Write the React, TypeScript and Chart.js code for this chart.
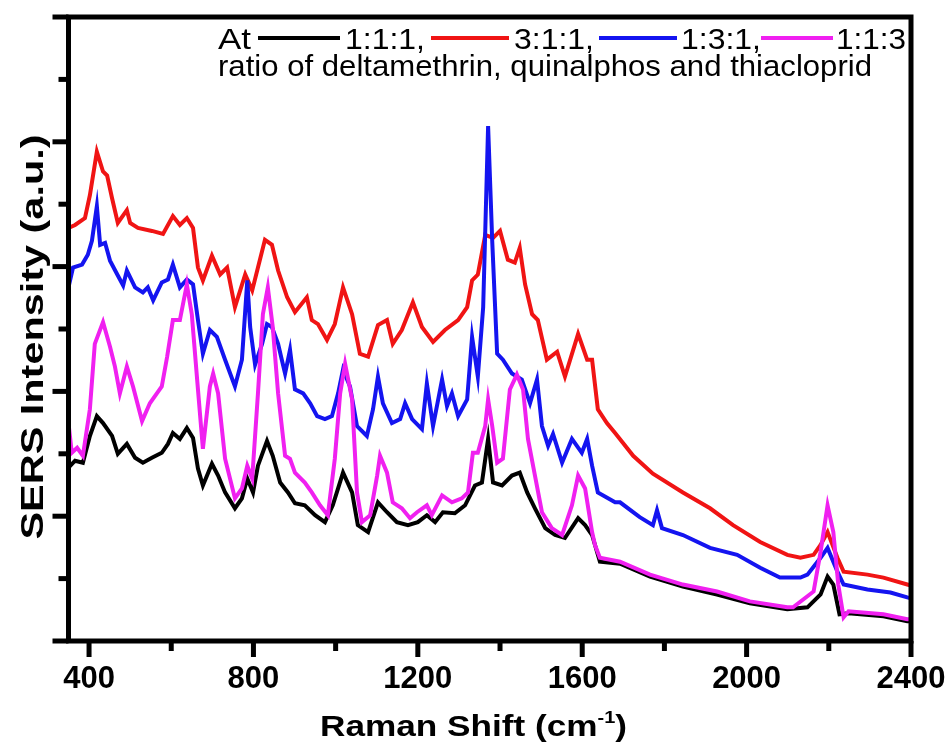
import React, { useEffect, useRef } from 'react';
import { Chart, registerables } from 'chart.js';

Chart.register(...registerables);

// ---------- data ----------
const xTickValues = [400, 800, 1200, 1600, 2000, 2400];
const xTickLabels = ['400', '800', '1200', '1600', '2000', '2400'];
const xMinorTicks = [600, 1000, 1400, 1800, 2200];
const yMajorTicks = [0, 126, 252, 378, 504, 630];
const yMinorTicks = [63, 189, 315, 441, 567];

const seriesLabels = ['1:1:1,', '3:1:1,', '1:3:1,', '1:1:3'];
const seriesColors = ['#000000', '#f01414', '#1414f0', '#f020f0'];

const blackShift = [350,366,385,402,419,434,456,470,492,512,531,553,577,592,604,621,638,653,665,677,699,714,731,755,772,785,799,811,833,847,865,884,901,925,950,974,993,1018,1040,1054,1079,1103,1125,1149,1176,1200,1222,1242,1261,1290,1315,1339,1356,1371,1383,1405,1429,1448,1466,1485,1510,1534,1558,1590,1607,1624,1643,1692,1765,1845,1928,2008,2099,2148,2180,2197,2211,2226,2248,2333,2391,2400];
const blackIntensity = [175,182,180,207,227,220,207,189,199,185,180,185,190,199,210,204,215,205,174,157,179,167,150,134,144,164,150,177,202,187,160,150,139,137,127,120,137,170,150,117,110,140,130,120,117,120,127,120,130,129,137,157,160,204,160,157,167,170,150,134,114,107,104,124,117,107,80,78,65,55,47,38,32,34,47,65,57,27,28,25,20,20];

const redShift = [350,366,390,402,419,434,444,456,470,492,500,519,553,580,604,621,638,653,665,677,699,719,736,755,780,797,811,828,845,860,882,901,930,942,957,979,998,1018,1040,1059,1079,1103,1125,1139,1161,1188,1210,1237,1266,1298,1320,1332,1346,1364,1383,1400,1419,1436,1448,1461,1478,1492,1514,1539,1558,1590,1612,1624,1638,1660,1680,1724,1772,1845,1911,1967,2033,2099,2131,2163,2180,2197,2221,2236,2294,2333,2391,2400];
const redIntensity = [417,420,427,450,494,474,470,447,422,435,422,417,414,411,429,420,427,417,377,364,389,370,377,337,370,354,377,405,400,374,347,332,347,324,320,304,320,357,330,290,287,319,324,300,314,342,317,302,314,324,337,364,370,410,407,414,385,382,397,360,330,324,284,292,267,310,284,284,234,220,210,187,169,150,134,117,100,87,84,87,97,110,84,70,67,64,57,56];

const blueShift = [350,361,383,397,407,419,427,439,451,470,483,492,512,531,543,556,577,592,604,621,638,653,665,677,694,711,731,755,772,785,792,804,821,833,845,860,869,877,889,901,921,938,955,974,991,1006,1018,1035,1052,1076,1091,1103,1115,1137,1157,1169,1186,1210,1222,1237,1259,1271,1283,1298,1320,1332,1346,1359,1371,1381,1393,1407,1429,1453,1473,1490,1502,1517,1529,1551,1575,1599,1612,1624,1638,1680,1692,1740,1772,1782,1794,1845,1911,1977,2033,2081,2131,2148,2180,2197,2221,2236,2294,2350,2391,2400];
const blueIntensity = [357,377,380,390,404,439,400,402,384,369,359,374,357,352,357,344,362,365,380,357,365,360,324,290,314,307,284,257,284,364,317,279,300,320,317,300,284,270,294,254,250,240,227,224,227,250,274,257,217,207,234,267,240,220,224,240,224,214,260,217,264,237,250,227,244,307,267,337,520,404,290,284,270,264,240,264,217,197,209,180,204,190,204,177,150,140,140,125,117,132,114,107,94,87,74,64,64,67,84,94,70,57,52,49,44,43];

const pinkShift = [350,358,371,385,402,414,434,451,463,475,492,507,529,548,565,577,590,604,621,638,650,663,677,694,702,714,731,755,772,785,797,811,823,835,847,860,877,889,901,925,942,962,981,998,1011,1023,1040,1052,1064,1084,1101,1108,1125,1139,1161,1181,1198,1222,1234,1259,1283,1307,1322,1334,1346,1364,1371,1381,1393,1407,1424,1441,1456,1468,1485,1502,1526,1551,1575,1590,1607,1624,1631,1643,1692,1765,1845,1928,2008,2099,2113,2163,2180,2197,2211,2223,2236,2248,2333,2391,2400];
const pinkIntensity = [220,190,195,187,234,300,322,297,277,250,277,257,222,240,250,257,287,324,324,360,330,264,194,257,270,250,184,144,154,177,164,250,330,357,317,250,187,184,170,160,150,137,127,184,250,280,244,150,120,127,167,187,170,140,134,124,130,137,127,147,140,144,150,190,190,217,244,217,180,184,254,269,254,204,167,130,114,107,137,167,154,110,97,84,80,67,57,50,40,34,34,50,90,137,110,57,24,30,27,22,22];

const seriesShifts = [blackShift, redShift, blueShift, pinkShift];
const seriesIntensities = [blackIntensity, redIntensity, blueIntensity, pinkIntensity];

const legendPrefix = 'At';
const legendSecondLine = 'ratio of deltamethrin, quinalphos and thiacloprid';
const yTitle = 'SERS Intensity (a.u.)';
const xTitleMain = 'Raman Shift (cm';
const xTitleSup = '-1';
const xTitleEnd = ')';

// ---------- drawing helpers ----------
const FONT = "'Liberation Sans', Arial, Helvetica, sans-serif";

function pairs(xs: number[], ys: number[]) {
  const n = Math.min(xs.length, ys.length);
  const out: { x: number; y: number }[] = [];
  for (let i = 0; i < n; i++) out.push({ x: xs[i], y: ys[i] });
  return out;
}

function fitText(ctx: CanvasRenderingContext2D, text: string, x: number, y: number, width: number) {
  const w = ctx.measureText(text).width;
  ctx.save();
  ctx.translate(x, y);
  ctx.scale(width / w, 1);
  ctx.fillText(text, 0, 0);
  ctx.restore();
}

const decorPlugin = {
  id: 'decor',
  afterDatasetsDraw(chart: any) {
    const { ctx, chartArea: a, scales } = chart;
    const xs = scales.x;
    const ys = scales.y;
    ctx.save();
    ctx.strokeStyle = '#000';
    ctx.lineWidth = 5;
    ctx.lineCap = 'butt';
    ctx.strokeRect(a.left, a.top, a.right - a.left, a.bottom - a.top);
    const tick = (x1: number, y1: number, x2: number, y2: number) => {
      ctx.beginPath();
      ctx.moveTo(x1, y1);
      ctx.lineTo(x2, y2);
      ctx.stroke();
    };
    xTickValues.forEach((v) => { const p = xs.getPixelForValue(v); tick(p, a.bottom, p, a.bottom + 16); });
    xMinorTicks.forEach((v) => { const p = xs.getPixelForValue(v); tick(p, a.bottom, p, a.bottom + 10); });
    yMajorTicks.forEach((v) => { const p = ys.getPixelForValue(v); tick(a.left, p, a.left - 16, p); });
    yMinorTicks.forEach((v) => { const p = ys.getPixelForValue(v); tick(a.left, p, a.left - 10, p); });
    ctx.restore();
  },
  afterDraw(chart: any) {
    const { ctx } = chart;
    ctx.save();
    ctx.fillStyle = '#000';
    ctx.textBaseline = 'alphabetic';
    ctx.textAlign = 'left';

    // legend line 1
    ctx.font = `30px ${FONT}`;
    fitText(ctx, legendPrefix, 218, 49, 33);
    const lineStarts = [258, 431, 599, 761];
    const lineEnds = [340, 509, 677, 833];
    const labelX = [345, 514, 681, 836];
    const labelW = [80, 80, 80, 70];
    chart.data.datasets.forEach((ds: any, i: number) => {
      ctx.strokeStyle = ds.borderColor;
      ctx.lineWidth = 4;
      ctx.beginPath();
      ctx.moveTo(lineStarts[i], 38);
      ctx.lineTo(lineEnds[i], 38);
      ctx.stroke();
      ctx.fillStyle = '#000';
      fitText(ctx, ds.label, labelX[i], 49, labelW[i]);
    });

    // legend line 2
    ctx.font = `29px ${FONT}`;
    fitText(ctx, legendSecondLine, 218, 76, 654);

    // x title
    ctx.font = `bold 30px ${FONT}`;
    const mainW = ctx.measureText(xTitleMain).width;
    ctx.font = `bold 17px ${FONT}`;
    const supW = ctx.measureText(xTitleSup).width;
    ctx.font = `bold 30px ${FONT}`;
    const endW = ctx.measureText(xTitleEnd).width;
    const total = mainW + supW + endW;
    const sx = 307 / total;
    ctx.save();
    ctx.translate(320, 736);
    ctx.scale(sx, 1);
    ctx.fillText(xTitleMain, 0, 0);
    ctx.font = `bold 17px ${FONT}`;
    ctx.fillText(xTitleSup, mainW, -13);
    ctx.font = `bold 30px ${FONT}`;
    ctx.fillText(xTitleEnd, mainW + supW, 0);
    ctx.restore();

    // y title
    ctx.font = `bold 32px ${FONT}`;
    ctx.save();
    ctx.translate(43, 337);
    ctx.rotate(-Math.PI / 2);
    const yw = ctx.measureText(yTitle).width;
    ctx.scale(405 / yw, 1);
    ctx.fillText(yTitle, -yw / 2, 0);
    ctx.restore();

    ctx.restore();
  },
};

export default function App() {
  const canvasRef = useRef<HTMLCanvasElement | null>(null);

  useEffect(() => {
    const canvas = canvasRef.current;
    if (!canvas) return;
    const chart = new Chart(canvas, {
      type: 'line',
      data: {
        datasets: seriesLabels.map((label, i) => ({
          label,
          data: pairs(seriesShifts[i], seriesIntensities[i]),
          borderColor: seriesColors[i],
          backgroundColor: seriesColors[i],
          borderWidth: 4,
          pointRadius: 0,
          tension: 0,
          fill: false,
          order: 4 - i,
        })),
      },
      options: {
        animation: false,
        responsive: true,
        maintainAspectRatio: false,
        parsing: false,
        layout: { padding: { left: 68.5, right: 41, top: 17, bottom: 37.8 } },
        plugins: { legend: { display: false }, tooltip: { enabled: false } },
        scales: {
          x: {
            type: 'linear',
            min: 350,
            max: 2400,
            afterBuildTicks: (scale: any) => {
              scale.ticks = xTickValues.map((v) => ({ value: v }));
            },
            ticks: {
              callback: (_v: any, idx: number) => xTickLabels[idx],
              color: '#000',
              font: { family: FONT, size: 31, weight: 'bold' },
              padding: 6,
              maxRotation: 0,
              autoSkip: false,
            },
            grid: { display: false, drawTicks: true, tickLength: 14 },
            border: { display: false },
          },
          y: {
            type: 'linear',
            min: 0,
            max: 630,
            display: false,
          },
        },
      },
      plugins: [decorPlugin],
    });
    return () => chart.destroy();
  }, []);

  return (
    <div style={{ position: 'absolute', left: 0, top: 0, width: 952, height: 742, background: '#fff' }}>
      <canvas ref={canvasRef} />
    </div>
  );
}
